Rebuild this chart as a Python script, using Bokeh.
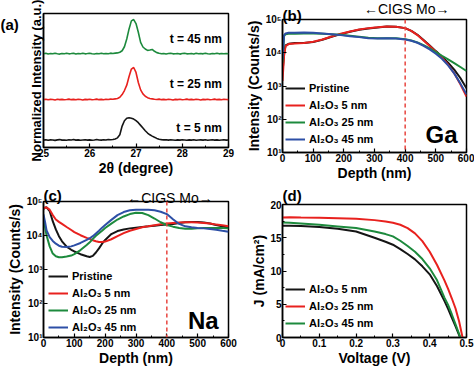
import numpy as np
from bokeh.plotting import figure
from bokeh.layouts import column, row
from bokeh.models import Range1d, FixedTicker, Label, Legend, LegendItem, Span
from bokeh.embed import file_html
from bokeh.resources import INLINE

FONT = "Liberation Sans"
C_BLACK = "#151515"
C_RED = "#e8211e"
C_GREEN = "#1d8a3d"
C_BLUE = "#2d4fa6"
C_DASH = "#e8453f"

# ---------------- (a) XRD ----------------
xrd_theta = np.round(np.linspace(25.0, 29.0, 81), 2)   # 2theta sampling grid (deg)
xrd_5nm = [
    .055, .058, .054, .057, .056, .053, .057, .059, .055, .056,
    .054, .058, .056, .060, .055, .057, .054, .056, .058, .055,
    .057, .054, .056, .060, .056, .055, .058, .056, .060, .058,
    .060, .064, .072, .095, .160, .200, .218, .222, .218, .212,
    .200, .185, .165, .145, .125, .108, .095, .085, .076, .068, .062,
    .059, .057, .058, .055, .058, .056, .054, .057, .055, .058,
    .056, .054, .057, .055, .058, .054, .056, .057, .055, .058,
    .054, .056, .058, .055, .057, .054, .056, .058, .055, .056]
xrd_25nm = [
    .357, .360, .356, .359, .358, .355, .360, .357, .359, .356,
    .358, .361, .357, .359, .356, .360, .358, .355, .359, .357,
    .360, .356, .358, .361, .357, .359, .356, .360, .358, .361,
    .360, .363, .366, .375, .395, .425, .465, .530, .585, .597,
    .560, .485, .430, .400, .382, .372, .366, .363, .360,
    .358, .361, .357, .359, .356, .360, .358, .355, .359, .357,
    .360, .356, .358, .361, .357, .359, .356, .360, .358, .355,
    .359, .357, .360, .356, .358, .361, .357, .359, .356, .360,
    .358, .357]
xrd_45nm = [
    .700, .703, .698, .702, .699, .704, .700, .697, .702, .700,
    .703, .699, .701, .704, .698, .702, .700, .703, .699, .701,
    .704, .700, .698, .702, .700, .703, .699, .702, .700, .704,
    .702, .704, .706, .711, .722, .752, .810, .885, .945, .955,
    .925, .860, .785, .750, .735, .725, .728, .732, .718, .708, .703,
    .700, .702, .698, .701, .703, .699, .700, .702, .697, .701,
    .704, .699, .700, .702, .698, .703, .700, .701, .699, .704,
    .700, .698, .702, .700, .703, .699, .701, .700, .702, .700]
xrd_tags = ["t = 5 nm", "t = 25 nm", "t = 45 nm"]
xrd_tag_y = [0.147, 0.475, 0.806]

# ---------------- (b) Ga depth profile ----------------
ga_depth = [0, 5, 10, 20, 40, 70, 100, 130, 160, 190, 220, 250, 280, 310,
            340, 370, 400, 420, 440, 460, 480, 500, 520, 540, 560, 580, 600]
ga_pristine = [2500, 8900, 16600, 18600, 19500, 19500, 20900, 24500, 30200, 36300,
               42700, 49000, 53700, 57500, 61700, 60300, 55000, 45700, 34700, 24000,
               16600, 11200, 7600, 5000, 3100, 1740, 850]
ga_5nm = [1410, 7940, 15850, 18200, 19050, 19500, 21400, 25100, 30900, 37200,
          43700, 50100, 55000, 58900, 61700, 60300, 55000, 45700, 33900, 23400,
          15850, 10700, 7080, 4370, 2400, 1120, 480]
ga_25nm = [5000, 31600, 36300, 37200, 37200, 38000, 38000, 37200, 36300, 34700,
           32400, 30200, 28200, 27500, 27500, 27500, 25700, 23400, 20400, 17000,
           13500, 10500, 8130, 6310, 4900, 3720, 2820]
ga_45nm = [6310, 33100, 38000, 39800, 39800, 40700, 39800, 38000, 36300, 33900,
           31600, 29500, 27500, 26900, 27500, 26900, 25100, 22900, 20000, 16200,
           12600, 9330, 6610, 4170, 2400, 1200, 560]

# ---------------- (c) Na depth profile ----------------
na_depth = [0, 5, 10, 20, 30, 40, 50, 60, 75, 90, 100, 120, 140, 150, 160, 170, 180,
            190, 200, 220, 240, 260, 280, 300, 320, 340, 360, 380, 400, 420, 440,
            460, 480, 500, 520, 540, 560, 580, 600]
na_pristine = [60300, 66100, 67600, 52500, 26300, 15100, 9550, 6760, 4680, 3800,
               3390, 2820, 2450, 2340, 2510, 3160, 4170, 5750, 7410, 11000,
               13500, 15100, 16200, 17000, 17800, 18600, 19500, 20400, 20900, 21900,
               23400, 24500, 25100, 25100, 24000, 22400, 20400, 18600, 16600]
na_5nm = [63100, 66100, 66100, 57500, 39800, 29500, 25100, 21900, 17800, 14500,
          12600, 10200, 8510, 7940, 7240, 6760, 6460, 6460, 6610, 7760,
          9550, 11700, 13800, 15500, 17400, 18600, 20000, 21400, 22400, 23400,
          24000, 24500, 24500, 24000, 23400, 22400, 20900, 20000, 18600]
na_25nm = [35500, 17800, 10000, 4790, 2950, 2450, 2290, 2290, 2400, 2570,
           2820, 3720, 5250, 6310, 7940, 9770, 11700, 13800, 16600, 22400,
           29500, 36300, 42700, 46800, 45700, 39800, 31600, 24500, 20400, 18200,
           16600, 15800, 15800, 16200, 16600, 16600, 16600, 16600, 16200]
na_45nm = [41700, 25100, 14100, 8910, 6920, 5750, 5010, 4680, 4570, 4790,
           5130, 6030, 7410, 8320, 9550, 11500, 13800, 17000, 20400, 28800,
           39800, 49000, 55000, 57500, 57500, 57500, 55000, 50100, 42700, 30200,
           21900, 18600, 17400, 16600, 16200, 15500, 14800, 13800, 12900]

depth_ticks = [0, 100, 200, 300, 400, 500, 600]
log_ticks = [10, 100, 1000, 10000, 100000]
log_labels = ["10¹", "10²", "10³", "10⁴", "10⁵"]
sims_labels = ["Pristine", "Al₂O₃ 5 nm", "Al₂O₃ 25 nm", "Al₂O₃ 45 nm"]

# ---------------- (d) J-V ----------------
jv_v = [0.0, 0.02, 0.05, 0.10, 0.15, 0.20, 0.25, 0.28, 0.30, 0.32, 0.34, 0.36,
        0.38, 0.40, 0.42, 0.44, 0.45, 0.46, 0.47, 0.48, 0.49]
jv_5nm = [16.8, 16.8, 16.75, 16.6, 16.35, 15.95, 15.0, 14.4, 13.95, 13.3, 12.55,
          11.75, 10.7, 9.5, 7.7, 5.5, 4.3, 3.0, 1.7, 0.35, -1.0]
jv_25nm = [18.05, 18.1, 18.05, 18.0, 17.95, 17.85, 17.65, 17.45, 17.25, 16.95,
           16.45, 15.65, 14.5, 12.9, 10.9, 8.6, 7.3, 5.9, 4.4, 2.4, -0.2]
jv_45nm = [17.3, 17.25, 17.15, 16.95, 16.7, 16.45, 15.95, 15.55, 15.2, 14.55,
           13.75, 12.9, 11.8, 10.4, 8.6, 6.0, 4.9, 3.5, 2.0, 0.5, -1.0]
jv_labels = ["Al₂O₃ 5 nm", "Al₂O₃ 25 nm", "Al₂O₃ 45 nm"]


def transparent(p):
    p.border_fill_color = None
    p.background_fill_color = None


def base_fig(w, h, xr, yr, lb, rb, tb, bb, ytype="linear"):
    p = figure(width=w, height=h, x_range=xr, y_range=yr, y_axis_type=ytype,
               output_backend="svg", toolbar_location=None,
               min_border_left=lb, min_border_right=rb,
               min_border_top=tb, min_border_bottom=bb)
    p.grid.visible = False
    p.outline_line_color = "black"
    p.outline_line_width = 1.5
    p.outline_line_alpha = 1.0
    for ax in (p.xaxis[0], p.yaxis[0]):
        ax.axis_line_width = 1.5
        ax.major_tick_in = 4
        ax.major_tick_out = 0
        ax.minor_tick_in = 2
        ax.minor_tick_out = 0
        ax.major_tick_line_width = 1.2
        ax.major_label_text_font = FONT
        ax.major_label_text_font_style = "bold"
        ax.major_label_text_font_size = "10px"
        ax.major_label_text_color = "black"
        ax.axis_label_text_font = FONT
        ax.axis_label_text_font_style = "bold"
        ax.axis_label_text_font_size = "14px"
        ax.axis_label_text_color = "black"
        ax.major_label_standoff = 1
        ax.axis_label_standoff = 0
    return p


def strip(w, h, margin=None):
    s = figure(width=w, height=h, x_range=Range1d(0, w), y_range=Range1d(0, h),
               output_backend="svg", toolbar_location=None,
               x_axis_location=None, y_axis_location=None, min_border=0,
               margin=margin)
    s.outline_line_color = None
    s.grid.visible = False
    transparent(s)
    return s


def add_label(p, x, y, text, size="15px", align="left", style="bold"):
    p.add_layout(Label(x=x, y=y, text=text, text_font=FONT, text_font_style=style,
                       text_font_size=size, text_align=align, text_baseline="middle",
                       text_color="black"))


def add_legend(p, items, loc):
    lg = Legend(items=items, location=loc, padding=0, margin=0, spacing=3,
                label_height=14, glyph_height=14, glyph_width=20, label_standoff=4,
                border_line_alpha=0, background_fill_alpha=0,
                label_text_font=FONT, label_text_font_style="bold",
                label_text_font_size="11px", label_text_color="black")
    p.add_layout(lg)


# ---- panel (a)
sa = strip(22, 184)
add_label(sa, 0, 169, "(a)")
pa = base_fig(215, 184, Range1d(25, 29), Range1d(0, 1), 21, 9, 13, 37)
pa.xaxis.ticker = FixedTicker(ticks=[25, 26, 27, 28, 29], minor_ticks=[25.5, 26.5, 27.5, 28.5])
pa.yaxis.ticker = FixedTicker(ticks=[])
pa.xaxis.axis_label = "2θ (degree)"
pa.yaxis.axis_label = "Normalized Intensity (a.u.)"
pa.yaxis.axis_label_text_font_size = "13px"
for ys, c in zip([xrd_5nm, xrd_25nm, xrd_45nm], [C_BLACK, C_RED, C_GREEN]):
    pa.line(xrd_theta, ys, line_color=c, line_width=1.6)
for t, ty in zip(xrd_tags, xrd_tag_y):
    add_label(pa, 28.86, ty, t, size="12px", align="right")

# ---- panel (b)
sb = strip(237, 24, margin=(0, 0, -11, 0))
add_label(sb, 0, 9.5, "(b)")
add_label(sb, 160, 16, "←CIGS Mo→", size="14px", align="center", style="normal")
pb = base_fig(237, 171, Range1d(0, 600), Range1d(10, 1e5), 45, 8, 6, 32, "log")
transparent(pb)
pb.xaxis.ticker = FixedTicker(ticks=depth_ticks, minor_ticks=[50, 150, 250, 350, 450, 550])
pb.yaxis.ticker = FixedTicker(ticks=log_ticks)
pb.yaxis.major_label_overrides = dict(zip(log_ticks, log_labels))
pb.xaxis.axis_label = "Depth (nm)"
pb.yaxis.axis_label = "Intensity (Counts/s)"
rb = []
for ys, c in zip([ga_pristine, ga_5nm, ga_25nm, ga_45nm], [C_BLACK, C_RED, C_GREEN, C_BLUE]):
    rb.append(pb.line(ga_depth, ys, line_color=c, line_width=2))
pb.add_layout(Span(location=400, dimension="height", line_color=C_DASH, line_dash="4 3", line_width=1.5))
add_legend(pb, [LegendItem(label=l, renderers=[r]) for l, r in zip(sims_labels, rb)], (3, 6))
add_label(pb, 571, 36, "Ga", size="24px", align="right")

# ---- panel (c)
sc = strip(237, 21, margin=(0, 0, -10, 0))
add_label(sc, 0, 10.5, "(c)")
add_label(sc, 162, 8, "←CIGS Mo→", size="14px", align="center", style="normal")
pc = base_fig(237, 173, Range1d(0, 600), Range1d(10, 1e5), 43, 9, 6, 31, "log")
transparent(pc)
pc.xaxis.ticker = FixedTicker(ticks=depth_ticks, minor_ticks=[50, 150, 250, 350, 450, 550])
pc.yaxis.ticker = FixedTicker(ticks=log_ticks)
pc.yaxis.major_label_overrides = dict(zip(log_ticks, log_labels))
pc.xaxis.axis_label = "Depth (nm)"
pc.yaxis.axis_label = "Intensity (Counts/s)"
rc = []
for ys, c in zip([na_pristine, na_5nm, na_25nm, na_45nm], [C_BLACK, C_RED, C_GREEN, C_BLUE]):
    rc.append(pc.line(na_depth, ys, line_color=c, line_width=2))
pc.add_layout(Span(location=400, dimension="height", line_color=C_DASH, line_dash="4 3", line_width=1.5))
add_legend(pc, [LegendItem(label=l, renderers=[r]) for l, r in zip(sims_labels, rc)], (5, 3))
add_label(pc, 568, 31.6, "Na", size="24px", align="right")

# ---- panel (d)
sd = strip(237, 21, margin=(0, 0, -10, 0))
add_label(sd, 0, 10.5, "(d)")
pd = base_fig(237, 173, Range1d(0, 0.5), Range1d(0, 20), 45, 8, 9, 27)
transparent(pd)
pd.xaxis.ticker = FixedTicker(ticks=[0, 0.1, 0.2, 0.3, 0.4, 0.5],
                              minor_ticks=[0.05, 0.15, 0.25, 0.35, 0.45])
pd.yaxis.ticker = FixedTicker(ticks=[0, 5, 10, 15, 20], minor_ticks=[2.5, 7.5, 12.5, 17.5])
pd.xaxis.axis_label = "Voltage (V)"
pd.yaxis.axis_label = "J (mA/cm²)"
rd = []
for ys, c in zip([jv_5nm, jv_25nm, jv_45nm], [C_BLACK, C_RED, C_GREEN]):
    rd.append(pd.line(jv_v, ys, line_color=c, line_width=2))
add_legend(pd, [LegendItem(label=l, renderers=[r]) for l, r in zip(jv_labels, rd)], (3, 7))

layout = column(
    row(row(sa, pa), column(sb, pb)),
    row(column(sc, pc), column(sd, pd)),
)
open("out.html", "w").write(file_html(layout, INLINE))
